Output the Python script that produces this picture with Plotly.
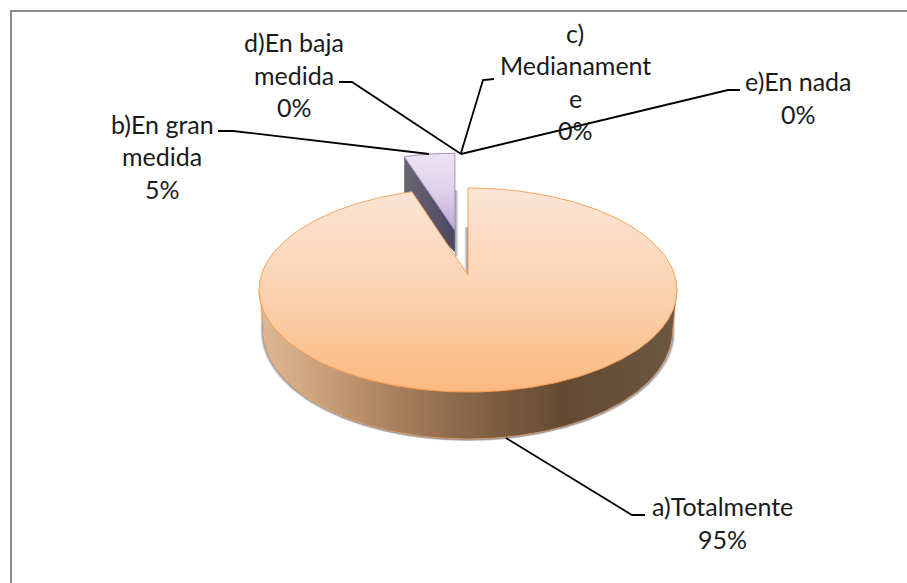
import numpy as np
import plotly.graph_objects as go

# ---- data ----
categories = ["a)Totalmente", "b)En gran medida", "c) Medianamente", "d)En baja medida", "e)En nada"]
values = [95, 5, 0, 0, 0]
percent_labels = ["95%", "5%", "0%", "0%", "0%"]
label_lines = [
    ["a)Totalmente"],
    ["b)En gran", "medida"],
    ["c)", "Medianament", "e"],
    ["d)En baja", "medida"],
    ["e)En nada"],
]

# ---- page layout (pixels of the 907x583 page) ----
W, H = 907, 583
FONT = "Lato"
FONT_SIZE = 25
LINE_PITCH = 32.5
label_centre_x = [722, 162, 575, 294, 798]
label_first_y = [506, 123.5, 32.5, 42, 81]
leader_paths = [
    ([645, 632, 506], [515, 515, 438]),
    ([218, 233, 429], [131, 131, 154]),
    ([494, 483, 461], [79, 80, 153]),
    ([339, 352, 461], [82, 82, 154]),
    ([740, 728, 461], [90, 90, 154]),
]

# ---- perspective pie geometry ----
CX, CY = 468, 275
RX, RY, K = 206.7, 99.8, 0.147
BOT_RX, BOT_CY, BOT_RY = 204.5, 331, 108


def project(theta, rx=RX, cy=CY, ry=RY, cx=CX, k=K):
    s = 1 / (1 + k * np.cos(theta))
    return cx + rx * np.sin(theta) * s, cy - ry * np.cos(theta) * s


total = sum(values)
sweep_a = 2 * np.pi * values[0] / total
sweep_b = 2 * np.pi * values[1] / total

# main slice runs clockwise from 12 o'clock
th_a = np.linspace(0, sweep_a, 360)
ax, ay = project(th_a)
top_a_x = np.r_[CX, ax, CX]
top_a_y = np.r_[CY, ay, CY]

# front wall between the two horizontal extremes of the ellipse
th_w = np.linspace(np.arccos(-K), 2 * np.pi - np.arccos(-K), 240)
th_bot = np.linspace(np.pi / 2, 3 * np.pi / 2, 240)
wt_x, wt_y = project(th_w)
wb_x, wb_y = project(th_bot, rx=BOT_RX, cy=BOT_CY, ry=BOT_RY, k=0)
wall_x = np.r_[wt_x, wb_x[::-1], wt_x[0]]
wall_y = np.r_[wt_y, wb_y[::-1], wt_y[0]]

# exploded second slice: pushed back along its bisector, foreshortened
mid_b = -sweep_b / 2
EXPLODE_X, EXPLODE_Y = 0.464, 0.52
SX, SY = 0.905, 0.885
bx0, by0 = project(np.array([mid_b]))
apex_x = CX + (bx0[0] - CX) * EXPLODE_X
apex_y = CY + (by0[0] - CY) * EXPLODE_Y
th_b = np.linspace(-sweep_b, 0, 24)
px, py = project(th_b)
bx = apex_x + (px - CX) * SX
by = apex_y + (py - CY) * SY
top_b_x = np.r_[apex_x, bx, apex_x]
top_b_y = np.r_[apex_y, by, apex_y]
DEPTH_B = 44
side_b_x = [bx[0], bx[0], apex_x, apex_x, bx[0]]
side_b_y = [by[0], by[0] + DEPTH_B, apex_y + 22, apex_y, by[0]]

fig = go.Figure()


def poly(x, y, fill=None, grad=None, line=None, lw=0, opacity=1):
    kw = dict(x=list(x), y=list(y), mode="lines", hoverinfo="skip", showlegend=False,
              opacity=opacity, line=dict(color=line or "rgba(0,0,0,0)", width=lw))
    if grad is not None:
        kw.update(fill="toself", fillgradient=grad)
    elif fill is not None:
        kw.update(fill="toself", fillcolor=fill)
    fig.add_trace(go.Scatter(**kw))


def hgrad(stops, start, stop, orient="horizontal"):
    return dict(type=orient, colorscale=stops, start=start, stop=stop)


# soft shadow hugging the wall, rising a little up both sides
for off, alpha in [(3.0, 0.10), (2.4, 0.16), (1.8, 0.24), (1.2, 0.34), (0.6, 0.45)]:
    sx, sy = project(th_bot, rx=BOT_RX + off * 0.8, cy=BOT_CY + off * 0.3, ry=BOT_RY + off * 0.3, k=0)
    poly(np.r_[sx[0], sx, sx[-1]], np.r_[BOT_CY - 22, sy, BOT_CY - 22],
         line="rgba(95,100,110,%.2f)" % alpha, lw=1.2)

# slim shadows beside the gap
gx = bx[-1]
poly([gx, gx + 3.5, gx + 3.5, gx, gx], [apex_y - 40, apex_y - 40, apex_y + 26, apex_y + 26, apex_y - 40],
     grad=hgrad([[0, "#9a9a9a"], [1, "#f2f2f2"]], gx, gx + 3.5))
poly([CX, CX - 3.5, CX - 3.5, CX, CX], [CY - 48, CY - 48, CY - 6, CY, CY - 48],
     grad=hgrad([[0, "#8f8f8f"], [1, "#ededed"]], CX, CX - 3.5))

# second slice side and top
poly(side_b_x, side_b_y, grad=hgrad([[0, "#6a6670"], [1, "#4d4763"]], bx[0], apex_x))
poly(top_b_x, top_b_y,
     grad=hgrad([[0, "#ebe4f2"], [0.5, "#ddd1ea"], [1, "#bda6d6"]], min(by), apex_y, "vertical"),
     line="#a78fc9", lw=1)

# main slice wall and top
poly(wall_x, wall_y,
     grad=hgrad([[0, "#dcb896"], [0.12, "#cfa57e"], [0.33, "#a87f5c"], [0.55, "#7f5f43"],
                 [0.73, "#644a33"], [1, "#6b5742"]], CX - RX, CX + RX),
     line="rgba(247,150,70,0.65)", lw=1)
poly(top_a_x, top_a_y,
     grad=hgrad([[0, "#fbe5d6"], [0.5, "#fbd3b2"], [1, "#fbb97f"]], min(ay), max(ay), "vertical"),
     line="rgba(247,150,70,0.85)", lw=1)

# leader lines
for lx, ly in leader_paths:
    fig.add_trace(go.Scatter(x=lx, y=ly, mode="lines", hoverinfo="skip", showlegend=False,
                             line=dict(color="#000000", width=1.8)))

# labels
annotations = []
for lines, pct, cx_, y0 in zip(label_lines, percent_labels, label_centre_x, label_first_y):
    for i, txt in enumerate(lines + [pct]):
        annotations.append(dict(x=cx_, y=y0 + i * LINE_PITCH, text=txt, showarrow=False,
                                xref="x", yref="y", xanchor="center", yanchor="middle",
                                font=dict(family=FONT, size=FONT_SIZE, color="#1a1a1a")))

# frame: only the left and top edges are visible in the page
shapes = [
    dict(type="line", x0=11, x1=11, y0=11, y1=H, line=dict(color="#8c8c8c", width=2)),
    dict(type="line", x0=10, x1=W, y0=11, y1=11, line=dict(color="#8c8c8c", width=2)),
]

fig.update_layout(
    width=W, height=H, margin=dict(l=0, r=0, t=0, b=0),
    paper_bgcolor="white", plot_bgcolor="white", showlegend=False,
    xaxis=dict(range=[0, W], visible=False, fixedrange=True),
    yaxis=dict(range=[H, 0], visible=False, fixedrange=True),
    annotations=annotations, shapes=shapes,
)
fig.write_html("out.html", config={"displayModeBar": False},
               post_script="document.body.style.margin='0';document.documentElement.style.overflow='hidden';")
